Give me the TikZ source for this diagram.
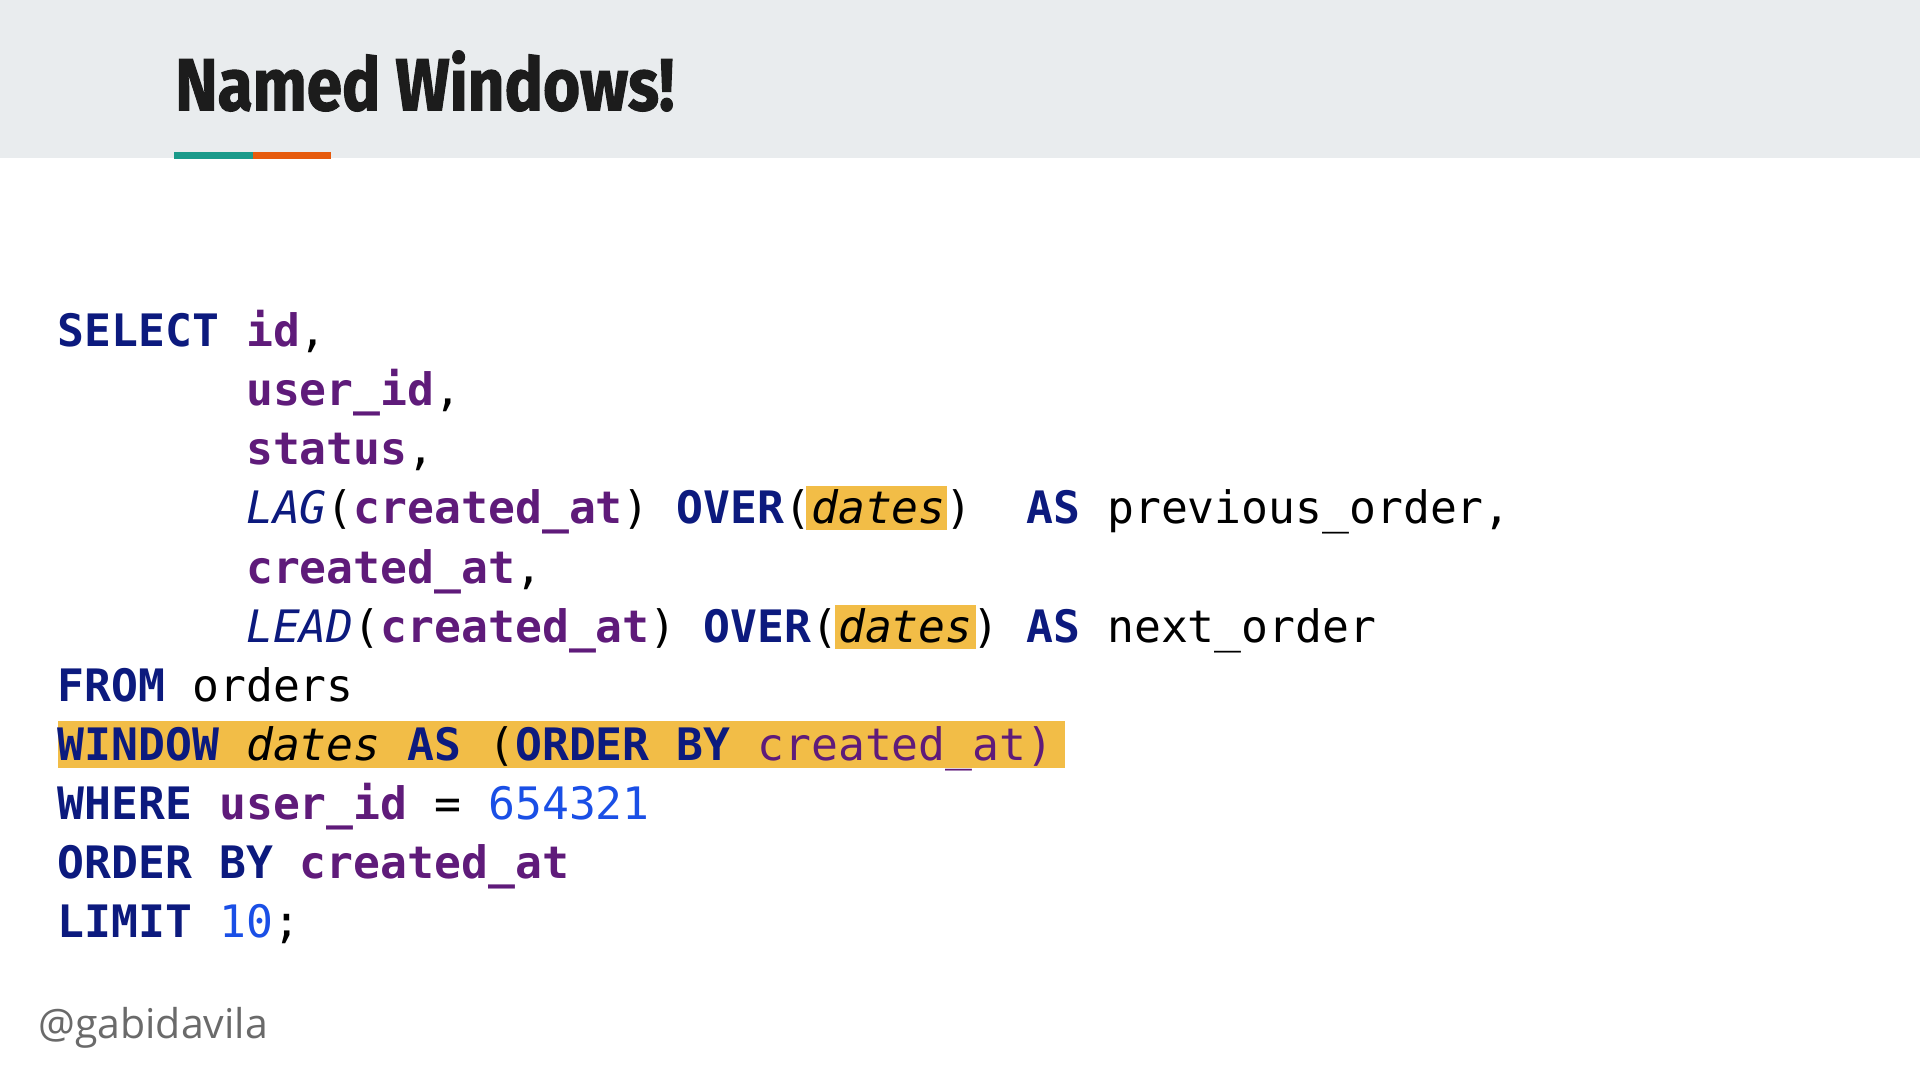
\documentclass[tikz,border=0pt]{standalone}
\usepackage{fontspec}
\usepackage{graphicx}
\newfontfamily\codefont{DejaVu Sans Mono}
\newfontfamily\titlefont{Fira Sans}[BoldFeatures={FakeBold=1.6}]
\newfontfamily\footfont{Open Sans}
\definecolor{bandc}{HTML}{E9ECEE}
\definecolor{tealc}{HTML}{1A9A8A}
\definecolor{orangec}{HTML}{E65A0C}
\definecolor{kwc}{HTML}{0C1A7E}
\definecolor{idc}{HTML}{5F1B7A}
\definecolor{numc}{HTML}{1A4FE6}
\definecolor{hlc}{HTML}{F2BD47}
\definecolor{titlec}{HTML}{1C1C1C}
\definecolor{footc}{HTML}{6A6A6A}
\newcommand\kw[1]{{\color{kwc}\bfseries #1}}
\newcommand\idf[1]{{\color{idc}\bfseries #1}}
\newcommand\fn[1]{{\color{kwc}\itshape #1}}
\newcommand\num[1]{{\color{numc}#1}}
\newcommand\nm[1]{{\itshape #1}}
\begin{document}
\begin{tikzpicture}[x=1pt,y=-1pt,
  codeline/.style={anchor=base west, inner sep=0pt, text=black,
    font=\codefont\fontsize{36.5}{40}\selectfont},
  hl/.style={fill=hlc}]
\useasboundingbox (0,0) rectangle (1568,882);
\fill[white] (0,0) rectangle (1568,882);
\fill[bandc] (0,0) rectangle (1568,129);
\fill[tealc] (142,124) rectangle (207,130);
\fill[orangec] (207,124) rectangle (270,130);
\node[anchor=base west, inner sep=0pt, text=titlec,
  font=\titlefont\bfseries\fontsize{60}{66}\selectfont] (title) at (143,90)
  {\scalebox{0.87}[1]{Named Windows!}};
% highlights
\fill[hl] (658,397) rectangle (773,433);
\fill[hl] (682,494) rectangle (797,530);
\fill[hl] (47,589) rectangle (870,627);
% code
\node[codeline] (l1) at (47,283.0) {\kw{SELECT}~\idf{id},};
\node[codeline] (l2) at (47,331.3) {~~~~~~~\idf{user\_id},};
\node[codeline] (l3) at (47,379.6) {~~~~~~~\idf{status},};
\node[codeline] (l4) at (47,427.9) {~~~~~~~\fn{LAG}(\idf{created\_at})~\kw{OVER}(\nm{dates})~~\kw{AS}~previous\_order,};
\node[codeline] (l5) at (47,476.2) {~~~~~~~\idf{created\_at},};
\node[codeline] (l6) at (47,524.5) {~~~~~~~\fn{LEAD}(\idf{created\_at})~\kw{OVER}(\nm{dates})~\kw{AS}~next\_order};
\node[codeline] (l7) at (47,572.8) {\kw{FROM}~orders};
\node[codeline] (l8) at (47,621.1) {\kw{WINDOW}~\nm{dates}~\kw{AS}~(\kw{ORDER}~\kw{BY}~{\color{idc}created\_at)}};
\node[codeline] (l9) at (47,669.4) {\kw{WHERE}~\idf{user\_id}~=~\num{654321}};
\node[codeline] (l10) at (47,717.7) {\kw{ORDER}~\kw{BY}~\idf{created\_at}};
\node[codeline] (l11) at (47,766.0) {\kw{LIMIT}~\num{10};};
% footer
\node[anchor=base west, inner sep=0pt, text=footc,
  font=\footfont\fontsize{33.5}{38}\selectfont] (handle) at (31,848) {@gabidavila};
\end{tikzpicture}
\end{document}
